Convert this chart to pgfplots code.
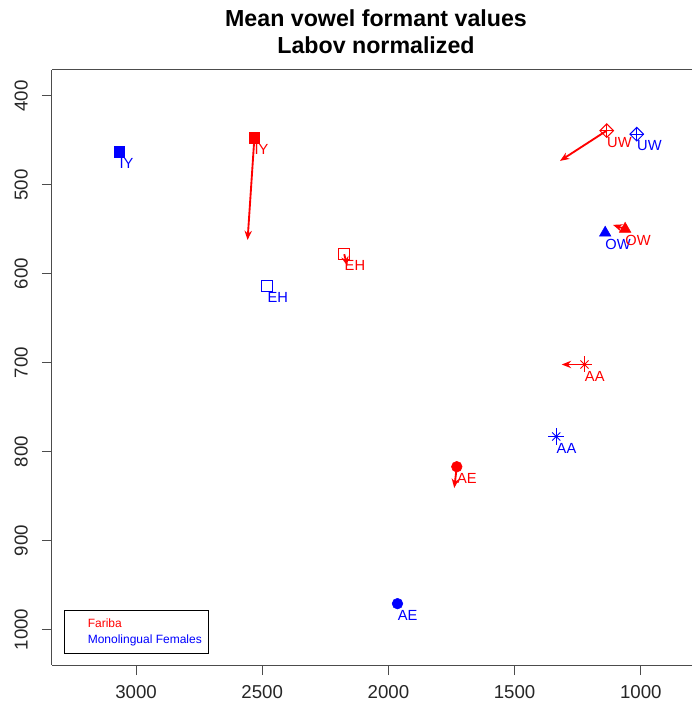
\documentclass[border=0pt]{standalone}
\usepackage{fontspec}
\setmainfont{Liberation Sans}
\usepackage{pgfplots}
\pgfplotsset{compat=1.18}
\usetikzlibrary{arrows.meta}

\pgfplotsset{
  lab/.style={nodes near coords, point meta=explicit symbolic,
    nodes near coords style={anchor=north west, inner sep=0pt, yshift=-4.5pt,
      font=\fontsize{11}{13}\selectfont}},
  arr/.style={red, line width=1.4pt, -{Stealth[length=7pt, width=5.5pt]}, forget plot},
}

\begin{document}
\begin{tikzpicture}
\begin{axis}[
  at={(39pt,30.75pt)}, anchor=south west,
  scale only axis, width=480pt, height=446.25pt,
  x dir=reverse, y dir=reverse,
  xmin=797, xmax=3333, ymin=370.8, ymax=1040,
  axis x line*=box, axis y line*=left,
  axis line style={black!70, line width=0.75pt},
  tick pos=left, tick align=outside, major tick length=7.5pt,
  tick style={black!70, line width=0.75pt},
  xtick={1000,1500,...,3000}, ytick={400,500,...,1000},
  /pgf/number format/1000 sep={},
  /pgf/number format/assume math mode=true,
  tick label style={font=\fontsize{14}{16}\selectfont, text=black!85},
  xticklabel style={anchor=north, inner sep=0pt},
  yticklabel style={rotate=90, anchor=south, inner sep=0pt},
  xticklabel shift=8pt, yticklabel shift=10.5pt,
  clip=false,
  legend style={at={(rel axis cs:0.0192,0.0924)}, anchor=north west,
    draw=black, line width=0.75pt, inner xsep=4.8pt, inner ysep=6.2pt,
    font=\fontsize{9}{11}\selectfont, row sep=2.9pt,
    nodes={inner sep=0pt, text height=6.8pt, text depth=1.8pt}},
  legend cell align=left,
]
% Monolingual Females (blue)
\addplot[blue, only marks, mark=square*, mark size=4pt, lab, forget plot]
  table[meta=lab] {x y lab
3066 463 IY
};
\addplot[blue, only marks, mark=square, mark size=4pt, mark options={line width=0.75pt}, lab, forget plot]
  table[meta=lab] {x y lab
2481 614 EH
};
\addplot[blue, only marks, mark=*, mark size=4pt, lab, forget plot]
  table[meta=lab] {x y lab
1964 971 AE
};
\addplot[blue, only marks, mark=+, mark size=6pt, mark options={line width=0.75pt}, lab, forget plot]
  table[meta=lab] {x y lab
1335 783 AA
};
\addplot[blue, only marks, mark=x, mark size=4.3pt, mark options={line width=0.75pt}, forget plot]
  table {x y
1335 783
};
\addplot[blue, only marks, mark=triangle*, mark size=5pt, lab, forget plot]
  table[meta=lab] {x y lab
1141 554 OW
};
\addplot[blue, only marks, mark=square, mark size=3.6pt, mark options={rotate=45, line width=0.75pt}, lab, forget plot]
  table[meta=lab] {x y lab
1016 443 UW
};
\addplot[blue, only marks, mark=+, mark size=5.1pt, mark options={line width=0.75pt}, forget plot]
  table {x y
1016 443
};
% Fariba (red)
\addplot[red, only marks, mark=square*, mark size=4pt, lab, forget plot]
  table[meta=lab] {x y lab
2531 447 IY
};
\addplot[red, only marks, mark=square, mark size=4pt, mark options={line width=0.75pt}, lab, forget plot]
  table[meta=lab] {x y lab
2175 578 EH
};
\addplot[red, only marks, mark=*, mark size=4pt, lab, forget plot]
  table[meta=lab] {x y lab
1729 817 AE
};
\addplot[red, only marks, mark=+, mark size=6pt, mark options={line width=0.75pt}, lab, forget plot]
  table[meta=lab] {x y lab
1223 702 AA
};
\addplot[red, only marks, mark=x, mark size=4.3pt, mark options={line width=0.75pt}, forget plot]
  table {x y
1223 702
};
\addplot[red, only marks, mark=triangle*, mark size=5pt, lab, forget plot]
  table[meta=lab] {x y lab
1062 549.6 OW
};
\addplot[red, only marks, mark=square, mark size=3.6pt, mark options={rotate=45, line width=0.75pt}, lab, forget plot]
  table[meta=lab] {x y lab
1135 439 UW
};
\addplot[red, only marks, mark=+, mark size=5.1pt, mark options={line width=0.75pt}, forget plot]
  table {x y
1135 439
};
% movement arrows
\addplot[arr] coordinates {(2531,447) (2558,562)};
\addplot[arr] coordinates {(2175,578) (2163,591)};
\addplot[arr] coordinates {(1729,817) (1739,841)};
\addplot[arr] coordinates {(1223,702) (1313,702)};
\addplot[arr] coordinates {(1062,549.6) (1110,545)};
\addplot[arr] coordinates {(1135,439) (1320,473)};
% legend (text only, with empty symbol slot)
\addlegendimage{draw=none, legend image code/.code={\path[draw=none] (0pt,0pt) -- (12.45pt,0pt);}}
\addlegendentry[text=red]{Fariba}
\addlegendimage{draw=none, legend image code/.code={\path[draw=none] (0pt,0pt) -- (12.45pt,0pt);}}
\addlegendentry[text=blue]{Monolingual Females}
\end{axis}
\node[anchor=base, font=\fontsize{17.4}{20}\selectfont\bfseries] at (282pt,509.5pt) {Mean vowel formant values};
\node[anchor=base, font=\fontsize{17.4}{20}\selectfont\bfseries] at (282pt,489pt) {Labov normalized};
\pgfresetboundingbox
\useasboundingbox (0,0) rectangle (519pt,529.5pt);
\end{tikzpicture}
\end{document}
